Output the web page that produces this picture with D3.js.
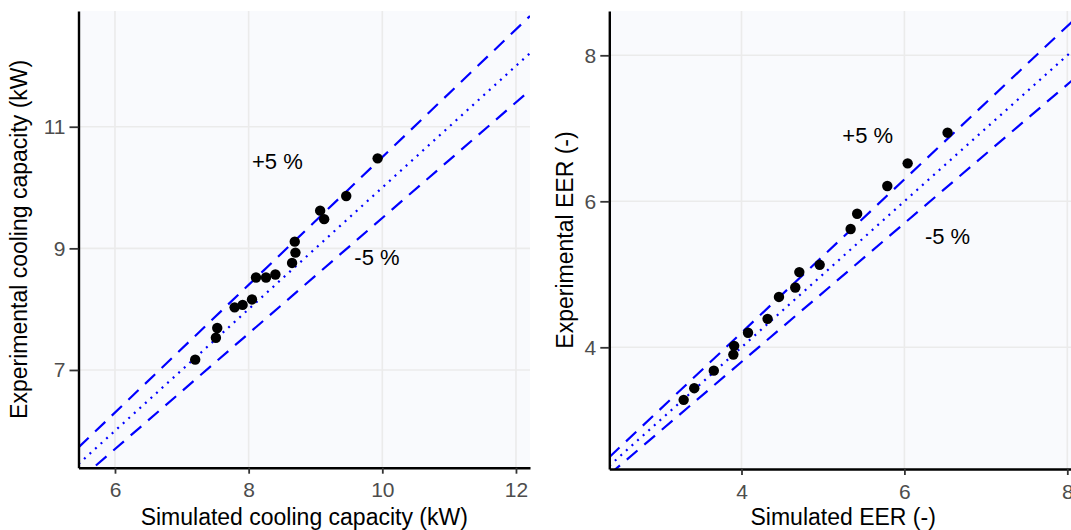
<!DOCTYPE html>
<html>
<head>
<meta charset="utf-8">
<script src="https://cdn.jsdelivr.net/npm/d3@7"></script>
<style>
  body { margin: 0; background: #fff; }
  svg { font-family: "Liberation Sans", Arial, sans-serif; }
</style>
</head>
<body>
<svg width="1071" height="530"></svg>
<script>
// cooling capacity (kW): simulated vs experimental
const capSim = [7.20, 7.51, 7.53, 7.79, 7.91, 8.05, 8.11, 8.26, 8.40, 8.65, 8.70, 8.69, 9.07, 9.13, 9.46, 9.93];
const capExp = [7.17, 7.53, 7.69, 8.03, 8.07, 8.16, 8.52, 8.52, 8.57, 8.76, 8.93, 9.11, 9.62, 9.48, 9.86, 10.48];
// EER (-): simulated vs experimental
const eerSim = [3.29, 3.42, 3.66, 3.90, 3.91, 4.08, 4.32, 4.46, 4.66, 4.71, 4.96, 5.34, 5.42, 5.79, 6.04, 6.53];
const eerExp = [3.28, 3.44, 3.68, 3.90, 4.02, 4.20, 4.39, 4.69, 4.82, 5.03, 5.13, 5.62, 5.83, 6.21, 6.52, 6.94];

const capXTicks = [6, 8, 10, 12];
const capYTicks = [7, 9, 11];
const eerXTicks = [4, 6, 8];
const eerYTicks = [4, 6, 8];

const bandFactors = [1.05, 1, 0.95];
const bandLabels = ["+5 %", "-5 %"];
const capLabelPos = [[8.43, 10.44], [9.92, 8.85]];
const eerLabelPos = [[5.55, 6.91], [6.53, 5.53]];

const svg = d3.select("svg");

function panel(opts) {
  const x = d3.scaleLinear().domain(opts.xDomain).range(opts.xRange);
  const y = d3.scaleLinear().domain(opts.yDomain).range(opts.yRange);
  const [x0, x1] = opts.xRange;
  const [y1, y0] = opts.yRange;

  const g = svg.append("g");

  g.append("rect")
    .attr("x", x0).attr("y", y0)
    .attr("width", x1 - x0).attr("height", y1 - y0)
    .attr("fill", "#f9fafd");

  // grid
  g.selectAll(".vgrid").data(opts.xTicks).enter().append("line")
    .attr("x1", d => x(d)).attr("x2", d => x(d))
    .attr("y1", y0).attr("y2", y1)
    .attr("stroke", "#ebebeb").attr("stroke-width", 1.6);
  g.selectAll(".hgrid").data(opts.yTicks).enter().append("line")
    .attr("x1", x0).attr("x2", x1)
    .attr("y1", d => y(d)).attr("y2", d => y(d))
    .attr("stroke", "#ebebeb").attr("stroke-width", 1.6);

  const clipId = "clip" + opts.id;
  svg.append("clipPath").attr("id", clipId)
    .append("rect")
    .attr("x", x0).attr("y", y0)
    .attr("width", x1 - x0).attr("height", y1 - y0);

  const line = d3.line().x(d => x(d[0])).y(d => y(d[1]));
  const lines = g.append("g").attr("clip-path", `url(#${clipId})`);
  bandFactors.forEach(k => {
    lines.append("path")
      .attr("d", line(opts.xDomain.map(v => [v, k * v])))
      .attr("fill", "none")
      .attr("stroke", "#0000ff")
      .attr("stroke-width", 2.2)
      .attr("stroke-dasharray", k === 1 ? "2,5.5" : "14,9");
  });

  g.selectAll("circle").data(opts.sim).enter().append("circle")
    .attr("cx", d => x(d))
    .attr("cy", (d, i) => y(opts.exp[i]))
    .attr("r", 5.2)
    .attr("fill", "#000");

  g.selectAll(".lab").data(bandLabels).enter().append("text")
    .attr("x", (d, i) => x(opts.labelPos[i][0]))
    .attr("y", (d, i) => y(opts.labelPos[i][1]))
    .attr("dy", "0.36em")
    .attr("text-anchor", "middle")
    .attr("font-size", 22)
    .attr("fill", "#000")
    .text(d => d);

  // axes
  const xAxis = g.append("g")
    .attr("transform", `translate(0,${y1})`)
    .call(d3.axisBottom(x).tickValues(opts.xTicks).tickFormat(d3.format("d"))
      .tickSize(6).tickSizeOuter(0).tickPadding(8.6));
  const yAxis = g.append("g")
    .attr("transform", `translate(${x0},0)`)
    .call(d3.axisLeft(y).tickValues(opts.yTicks).tickFormat(d3.format("d"))
      .tickSize(9).tickSizeOuter(0).tickPadding(4));

  [xAxis, yAxis].forEach(a => {
    a.select(".domain").attr("stroke", "#000").attr("stroke-width", 2.4);
    a.selectAll(".tick line").attr("stroke", "#333").attr("stroke-width", 1.8);
    a.selectAll(".tick text").attr("fill", "#4d4d4d").attr("font-size", 21)
      .attr("font-family", "Liberation Sans, Arial, sans-serif");
  });

  g.append("text")
    .attr("x", (x0 + x1) / 2).attr("y", 525)
    .attr("text-anchor", "middle")
    .attr("font-size", 23)
    .text(opts.xTitle);

  g.append("text")
    .attr("transform", `translate(${opts.yTitleX},${(y0 + y1) / 2}) rotate(-90)`)
    .attr("text-anchor", "middle")
    .attr("font-size", 23)
    .text(opts.yTitle);
}

panel({
  id: "cap",
  xDomain: [5.454, 12.21], yDomain: [5.393, 12.903],
  xRange: [78.5, 530], yRange: [467.7, 11],
  xTicks: capXTicks, yTicks: capYTicks,
  sim: capSim, exp: capExp, labelPos: capLabelPos,
  xTitle: "Simulated cooling capacity (kW)",
  yTitle: "Experimental cooling capacity (kW)",
  yTitleX: 27
});

panel({
  id: "eer",
  xDomain: [2.377, 8.119], yDomain: [2.333, 8.607],
  xRange: [609.3, 1077], yRange: [469, 11],
  xTicks: eerXTicks, yTicks: eerYTicks,
  sim: eerSim, exp: eerExp, labelPos: eerLabelPos,
  xTitle: "Simulated EER (-)",
  yTitle: "Experimental EER (-)",
  yTitleX: 573
});
</script>
</body>
</html>
